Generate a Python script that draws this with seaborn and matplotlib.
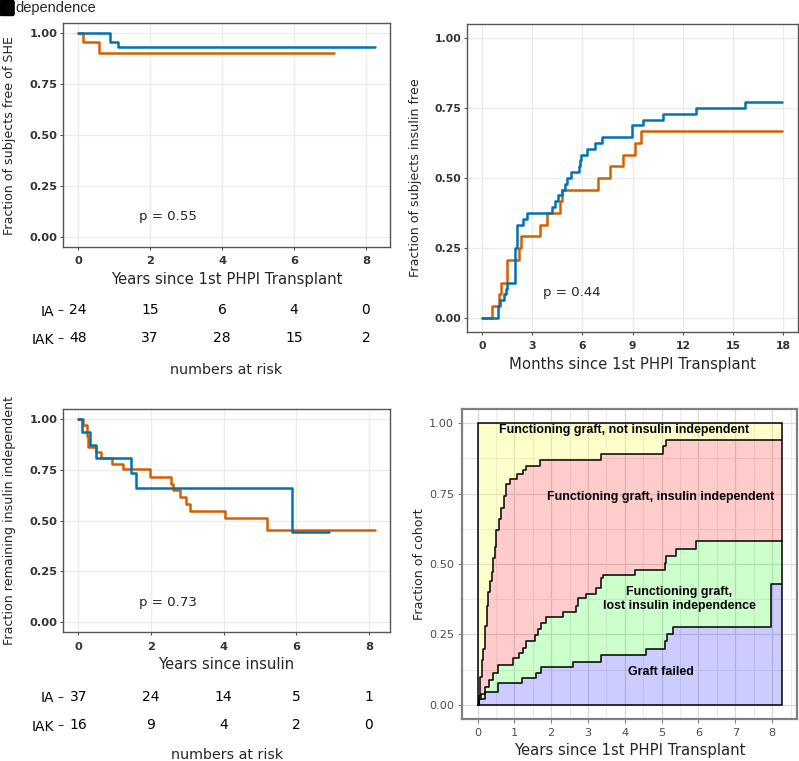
"""
Four-panel survival / state figure: SHE-free, insulin-free, insulin independence
and stacked graft-state fractions.
"""

import numpy as np
import pandas as pd
import matplotlib
matplotlib.use("Agg")
import matplotlib.pyplot as plt
from matplotlib.patches import FancyBboxPatch, Rectangle
from matplotlib.ticker import MultipleLocator
import seaborn as sns

# ──────────────────────────────────────────────
# Data
# ──────────────────────────────────────────────
# Panel A: fraction free of SHE (years)
A_IA_T = [0, 0.13, 0.59, 7.12]
A_IA_S = [1.0, 0.958, 0.905, 0.905]
A_IAK_T = [0, 0.88, 1.12, 8.25]
A_IAK_S = [1.0, 0.958, 0.933, 0.933]

# Panel B: fraction insulin free (months)
B_IA_T = [0, 0.63, 1.03, 1.12, 1.53, 2.23, 2.33, 3.48, 3.92, 4.67, 4.81,
          6.92, 7.66, 8.45, 9.15, 9.49, 17.94]
B_IA_S = [0, 0.042, 0.083, 0.125, 0.208, 0.25, 0.292, 0.333, 0.375, 0.417,
          0.458, 0.5, 0.542, 0.583, 0.625, 0.667, 0.667]
B_IAK_T = [0, 0.95, 1.09, 1.33, 1.45, 1.53, 2.0, 2.12, 2.45, 2.7, 4.18,
           4.38, 4.52, 4.78, 4.97, 5.07, 5.31, 5.83, 5.88, 5.92, 6.3, 6.76,
           7.16, 8.99, 9.6, 10.84, 12.79, 15.71, 17.94]
B_IAK_S = [0, 0.042, 0.063, 0.083, 0.104, 0.125, 0.25, 0.333, 0.354, 0.375,
           0.396, 0.417, 0.438, 0.458, 0.479, 0.5, 0.521, 0.542, 0.563, 0.583,
           0.604, 0.625, 0.646, 0.688, 0.708, 0.729, 0.75, 0.771, 0.771]

# Panel C: fraction remaining insulin independent (years)
C_IA_T = [0, 0.12, 0.23, 0.27, 0.48, 0.64, 0.93, 1.24, 1.97, 2.55, 2.6,
          2.81, 2.97, 3.07, 4.05, 5.19, 8.17]
C_IA_S = [1.0, 0.973, 0.919, 0.865, 0.838, 0.81, 0.78, 0.753, 0.717, 0.68,
          0.651, 0.618, 0.58, 0.547, 0.514, 0.453, 0.453]
C_IAK_T = [0, 0.1, 0.32, 0.5, 1.46, 1.58, 5.88, 6.91]
C_IAK_S = [1.0, 0.938, 0.875, 0.81, 0.735, 0.66, 0.443, 0.443]

# numbers at risk
RISK_TIMES = [0, 2, 4, 6, 8]
A_RISK_IA = [24, 15, 6, 4, 0]
A_RISK_IAK = [48, 37, 28, 15, 2]
C_RISK_IA = [37, 24, 14, 5, 1]
C_RISK_IAK = [16, 9, 4, 2, 0]

# Panel D: cumulative state boundaries (years)
D_FAIL_T = [0, 0.04, 0.2, 0.56, 1.22, 1.6, 1.73, 2.59, 3.36, 4.58, 5.08,
            5.15, 5.3, 7.97, 8.27]
D_FAIL_S = [0, 0.02, 0.047, 0.079, 0.095, 0.113, 0.134, 0.154, 0.178, 0.199,
            0.227, 0.25, 0.276, 0.43, 0.43]
D_LOST_T = [0, 0.05, 0.1, 0.2, 0.3, 0.42, 0.56, 0.97, 1.13, 1.24, 1.31,
            1.55, 1.65, 1.73, 1.86, 2.32, 2.67, 2.73, 2.95, 3.22, 3.36, 3.41,
            4.27, 5.08, 5.12, 5.4, 5.94, 8.27]
D_LOST_S = [0, 0.02, 0.04, 0.065, 0.09, 0.113, 0.142, 0.166, 0.183, 0.201,
            0.228, 0.248, 0.27, 0.29, 0.311, 0.331, 0.35, 0.379, 0.393, 0.414,
            0.45, 0.461, 0.479, 0.503, 0.53, 0.553, 0.582, 0.582]
D_INDEP_T = [0, 0.03, 0.08, 0.12, 0.16, 0.2, 0.25, 0.29, 0.34, 0.38, 0.42,
             0.47, 0.51, 0.59, 0.65, 0.72, 0.77, 0.88, 1.06, 1.24, 1.31, 1.71,
             3.36, 5.04, 5.12, 8.27]
D_INDEP_S = [0, 0.03, 0.1, 0.16, 0.2, 0.28, 0.35, 0.4, 0.44, 0.47, 0.52,
             0.56, 0.62, 0.66, 0.7, 0.74, 0.785, 0.8, 0.818, 0.834, 0.848,
             0.868, 0.891, 0.918, 0.941, 0.941]

D_STATES = ["Graft failed", "Functioning graft,\nlost insulin independence",
            "Functioning graft, insulin independent",
            "Functioning graft, not insulin independent"]
D_COLORS = ["blue", "lime", "red", "yellow"]

ORANGE = "#D55E00"
BLUE = "#0072B2"

# ──────────────────────────────────────────────
# Figure setup
# ──────────────────────────────────────────────
sns.set_style("whitegrid")
plt.rcParams["font.family"] = ["DejaVu Sans"]

W, H = 799, 761
fig = plt.figure(figsize=(W / 100, H / 100), dpi=100)


def px_axes(left, top, right, bottom):
    """Axes placed by pixel edges (top-left origin)."""
    return fig.add_axes([left / W, 1 - bottom / H, (right - left) / W, (bottom - top) / H])


def km_line(ax, t, s, color, lw=1.8):
    df = pd.DataFrame({"t": t, "s": s})
    sns.lineplot(data=df, x="t", y="s", ax=ax, color=color, lw=lw,
                 drawstyle="steps-post", estimator=None, sort=False)


def style_km(ax, xlim, xticks, xlabel, ylabel, ylab_x, tick_size=8.2):
    ax.set_xlim(*xlim)
    ax.set_ylim(-0.05, 1.05)
    ax.set_xticks(xticks)
    ax.set_yticks([0, 0.25, 0.5, 0.75, 1.0])
    ax.set_yticklabels(["0.00", "0.25", "0.50", "0.75", "1.00"])
    ax.grid(True, color="#EBEBEB", lw=0.9)
    for sp in ax.spines.values():
        sp.set_visible(True)
        sp.set_color("#555555")
        sp.set_linewidth(1.0)
    ax.tick_params(axis="both", bottom=True, left=True, length=2.5, width=0.8,
                   color="#555555", labelsize=tick_size, labelcolor="#333333")
    ax.tick_params(axis="x", pad=4.2)
    ax.tick_params(axis="y", pad=1.5)
    for lab in ax.get_xticklabels() + ax.get_yticklabels():
        lab.set_fontweight("bold")
    ax.set_xlabel(xlabel, fontsize=10.7, labelpad=4)
    ax.set_ylabel(ylabel, fontsize=9.1)
    ax.yaxis.set_label_coords(ylab_x, 0.5)


def risk_table(ax, xlim, ia, iak, label_y):
    ax.set_xlim(*xlim)
    ax.set_ylim(1.5, -0.5)
    for row, counts in enumerate([ia, iak]):
        for x, n in zip(RISK_TIMES, counts):
            ax.text(x, row, str(n), ha="center", va="center", fontsize=10, color="black")
    ax.set_xticks([])
    ax.set_yticks([0, 1])
    ax.set_yticklabels(["IA", "IAK"])
    ax.grid(False)
    for sp in ax.spines.values():
        sp.set_visible(False)
    ax.tick_params(axis="y", left=True, length=3.5, width=0.8, color="#333333",
                   labelsize=10, labelcolor="black", pad=3)
    ax.set_xlabel("numbers at risk", fontsize=10.3)
    ax.xaxis.set_label_coords(0.5, label_y)
    ax.patch.set_alpha(0)


# ──────────────────────────────────────────────
# Panel A
# ──────────────────────────────────────────────
ax_a = px_axes(63, 23, 390, 247)
km_line(ax_a, A_IA_T, A_IA_S, ORANGE)
km_line(ax_a, A_IAK_T, A_IAK_S, BLUE)
ax_a.text(2.5, 0.1, "p = 0.55", ha="center", va="center", fontsize=9.6)
style_km(ax_a, (-0.42, 8.67), [0, 2, 4, 6, 8],
         "Years since 1st PHPI Transplant", "Fraction of subjects free of SHE", -0.145)

ax_ar = px_axes(63, 296, 390, 352)
risk_table(ax_ar, (-0.42, 8.67), A_RISK_IA, A_RISK_IAK, -0.2)

# ──────────────────────────────────────────────
# Panel B
# ──────────────────────────────────────────────
ax_b = px_axes(466.7, 24, 797.5, 331.7)
km_line(ax_b, B_IA_T, B_IA_S, ORANGE)
km_line(ax_b, B_IAK_T, B_IAK_S, BLUE)
ax_b.text(5.35, 0.09, "p = 0.44", ha="center", va="center", fontsize=9.6)
style_km(ax_b, (-0.9, 18.84), [0, 3, 6, 9, 12, 15, 18],
         "Months since 1st PHPI Transplant", "Fraction of subjects insulin free", -0.135,
         tick_size=7.8)

# ──────────────────────────────────────────────
# Panel C
# ──────────────────────────────────────────────
ax_c = px_axes(63.3, 409, 390, 632.3)
km_line(ax_c, C_IA_T, C_IA_S, ORANGE)
km_line(ax_c, C_IAK_T, C_IAK_S, BLUE)
ax_c.text(2.47, 0.095, "p = 0.73", ha="center", va="center", fontsize=9.6)
style_km(ax_c, (-0.41, 8.58), [0, 2, 4, 6, 8],
         "Years since insulin", "Fraction remaining insulin independent", -0.145)

ax_cr = px_axes(63.3, 682.5, 390, 739.3)
risk_table(ax_cr, (-0.41, 8.58), C_RISK_IA, C_RISK_IAK, -0.147)

# ──────────────────────────────────────────────
# Panel D: stacked state fractions
# ──────────────────────────────────────────────
ax_d = px_axes(461.7, 409, 797.5, 719)


def step_eval(grid, times, vals):
    idx = np.searchsorted(times, grid, side="right") - 1
    return np.asarray(vals)[idx]


grid = np.unique(np.concatenate([D_FAIL_T, D_LOST_T, D_INDEP_T]))
bounds = [np.zeros_like(grid),
          step_eval(grid, D_FAIL_T, D_FAIL_S),
          step_eval(grid, D_LOST_T, D_LOST_S),
          step_eval(grid, D_INDEP_T, D_INDEP_S),
          np.ones_like(grid)]
for lo, hi, col in zip(bounds[:-1], bounds[1:], D_COLORS):
    ax_d.fill_between(grid, lo, hi, step="post", color=col, alpha=0.2, lw=0)

for t, s in [(D_FAIL_T, D_FAIL_S), (D_LOST_T, D_LOST_S), (D_INDEP_T, D_INDEP_S)]:
    km_line(ax_d, t, s, "black", lw=1.1)
ax_d.add_patch(Rectangle((grid[0], 0), grid[-1] - grid[0], 1, fill=False,
                         ec="black", lw=1.1, zorder=3))

label_pos = [(4.98, 0.118), (5.47, 0.375), (4.96, 0.736), (3.98, 0.976)]
for text, (x, y) in zip(D_STATES, label_pos):
    ax_d.text(x, y, text, ha="center", va="center", fontsize=8.9, fontweight="bold",
              family=["Liberation Sans", "DejaVu Sans"], linespacing=1.25,
              color="black", zorder=5)

ax_d.set_xlim(-0.43, 8.69)
ax_d.set_ylim(-0.05, 1.05)
ax_d.set_xticks(range(9))
ax_d.set_yticks([0, 0.25, 0.5, 0.75, 1.0])
ax_d.set_yticklabels(["0.00", "0.25", "0.50", "0.75", "1.00"])
ax_d.xaxis.set_minor_locator(MultipleLocator(0.5))
ax_d.yaxis.set_minor_locator(MultipleLocator(0.125))
ax_d.grid(True, which="major", color="#DADADA", lw=0.9)
ax_d.grid(True, which="minor", color="#E8E8E8", lw=0.6)
for sp in ax_d.spines.values():
    sp.set_visible(True)
    sp.set_color("#808080")
    sp.set_linewidth(1.6)
ax_d.tick_params(axis="both", which="major", bottom=True, left=True, length=3,
                 width=0.8, color="#808080", labelsize=8.1, labelcolor="#4D4D4D")
ax_d.tick_params(axis="both", which="minor", bottom=False, left=False, length=0)
ax_d.tick_params(axis="x", pad=3.5)
ax_d.tick_params(axis="y", pad=2.5)
ax_d.set_xlabel("Years since 1st PHPI Transplant", fontsize=10.7, labelpad=3.3)
ax_d.set_ylabel("Fraction of cohort", fontsize=9.1)
ax_d.yaxis.set_label_coords(-0.106, 0.5)

# ──────────────────────────────────────────────
# Cut-off heading in the top-left corner
# ──────────────────────────────────────────────
fig.add_artist(FancyBboxPatch((1.5 / W, 1 - 14 / H), 11 / W, 12 / H,
                              boxstyle="round,pad=0.002", transform=fig.transFigure,
                              fc="black", ec="black"))
fig.text(15 / W, 1 - 12 / H, "dependence", fontsize=10.5, va="baseline",
         family=["Liberation Sans", "DejaVu Sans"])

fig.savefig("out.png", dpi=100)
plt.close(fig)
